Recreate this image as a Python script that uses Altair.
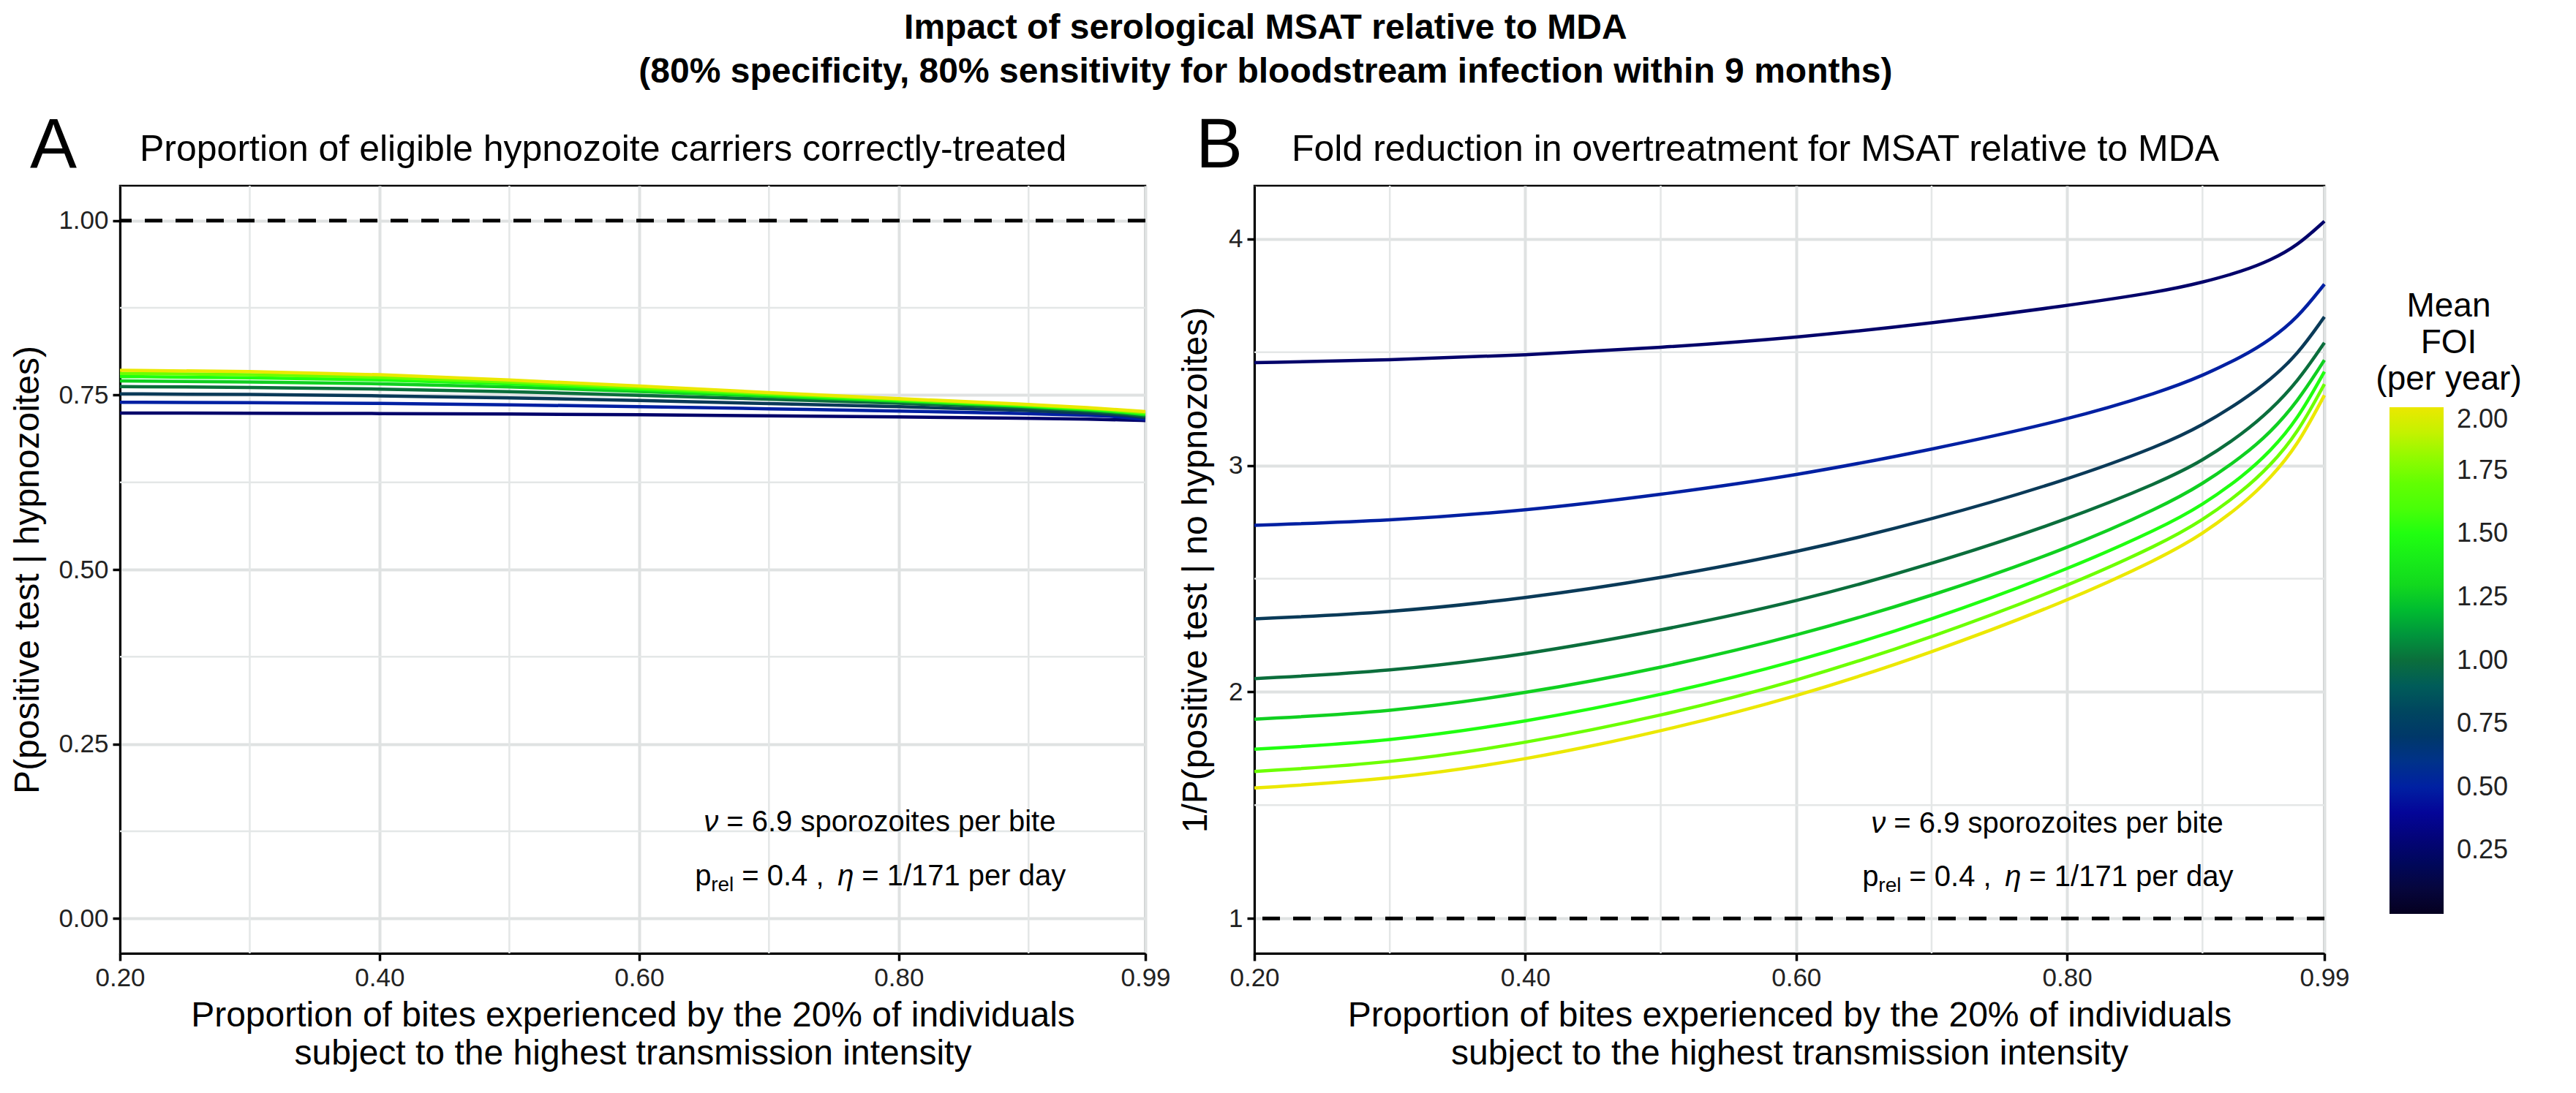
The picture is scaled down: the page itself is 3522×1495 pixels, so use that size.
import altair as alt
import pandas as pd

# ---------------- data ----------------
xa_points = [0.20, 0.30, 0.40, 0.50, 0.60, 0.70, 0.80, 0.90, 0.95, 0.97, 0.99]
xb_points = [0.20, 0.30, 0.40, 0.50, 0.60, 0.70, 0.80, 0.87, 0.90, 0.93, 0.95, 0.97, 0.99]
foi_levels = [0.25, 0.50, 0.75, 1.00, 1.25, 1.50, 1.75, 2.00]

# Panel A: P(positive test | hypnozoites)
a_foi_025 = [0.7243, 0.7239, 0.7236, 0.7229, 0.7218, 0.7204, 0.7187, 0.7169, 0.7155, 0.7145, 0.7135]
a_foi_050 = [0.7396, 0.7392, 0.7382, 0.7361, 0.7336, 0.7302, 0.7274, 0.7232, 0.7211, 0.7190, 0.7152]
a_foi_075 = [0.7517, 0.7510, 0.7490, 0.7462, 0.7423, 0.7378, 0.7336, 0.7281, 0.7239, 0.7218, 0.7176]
a_foi_100 = [0.7622, 0.7611, 0.7587, 0.7552, 0.7497, 0.7441, 0.7385, 0.7316, 0.7267, 0.7239, 0.7197]
a_foi_125 = [0.7702, 0.7691, 0.7664, 0.7622, 0.7552, 0.7483, 0.7413, 0.7336, 0.7284, 0.7256, 0.7218]
a_foi_150 = [0.7764, 0.7751, 0.7719, 0.7667, 0.7580, 0.7503, 0.7427, 0.7347, 0.7295, 0.7267, 0.7232]
a_foi_175 = [0.7810, 0.7796, 0.7761, 0.7691, 0.7604, 0.7517, 0.7437, 0.7357, 0.7305, 0.7277, 0.7246]
a_foi_200 = [0.7855, 0.7841, 0.7796, 0.7719, 0.7629, 0.7535, 0.7448, 0.7368, 0.7316, 0.7288, 0.7263]

# Panel B: 1/P(positive test | no hypnozoites)
b_foi_025 = [3.454, 3.465, 3.487, 3.520, 3.564, 3.627, 3.705, 3.768, 3.808, 3.858, 3.905, 3.970, 4.078]
b_foi_050 = [2.736, 2.756, 2.800, 2.871, 2.955, 3.070, 3.200, 3.326, 3.396, 3.482, 3.555, 3.650, 3.800]
b_foi_075 = [2.323, 2.350, 2.413, 2.502, 2.615, 2.760, 2.935, 3.090, 3.177, 3.289, 3.378, 3.488, 3.656]
b_foi_100 = [2.059, 2.090, 2.164, 2.271, 2.397, 2.563, 2.760, 2.930, 3.020, 3.142, 3.243, 3.368, 3.542]
b_foi_125 = [1.880, 1.911, 1.993, 2.105, 2.246, 2.422, 2.631, 2.818, 2.917, 3.042, 3.145, 3.280, 3.465]
b_foi_150 = [1.747, 1.782, 1.867, 1.985, 2.132, 2.317, 2.539, 2.726, 2.825, 2.953, 3.062, 3.201, 3.414]
b_foi_175 = [1.649, 1.685, 1.773, 1.893, 2.046, 2.240, 2.465, 2.656, 2.757, 2.888, 2.999, 3.140, 3.359]
b_foi_200 = [1.576, 1.613, 1.699, 1.825, 1.977, 2.173, 2.400, 2.594, 2.696, 2.830, 2.943, 3.086, 3.310]

a_series = [a_foi_025, a_foi_050, a_foi_075, a_foi_100, a_foi_125, a_foi_150, a_foi_175, a_foi_200]
b_series = [b_foi_025, b_foi_050, b_foi_075, b_foi_100, b_foi_125, b_foi_150, b_foi_175, b_foi_200]

x_ticks = [0.20, 0.40, 0.60, 0.80, 0.99]
x_minor = [0.30, 0.50, 0.70, 0.90]
ya_ticks = [0.00, 0.25, 0.50, 0.75, 1.00]
ya_minor = [0.125, 0.375, 0.625, 0.875]
yb_ticks = [1, 2, 3, 4]
yb_minor = [1.5, 2.5, 3.5]
ref_a = [1.0]
ref_b = [1.0]

legend_ticks = [0.25, 0.50, 0.75, 1.00, 1.25, 1.50, 1.75, 2.00]
color_stops = [0.0, 0.25, 0.45, 0.75, 1.0, 1.25, 1.5, 1.75, 2.0]
color_range = ["#050020", "#03036a", "#0505a8", "#0a3a58", "#0b6e3c",
               "#10d020", "#20ff10", "#6cff00", "#ebe800"]

title_lines = ["Impact of serological MSAT relative to MDA",
               "(80% specificity, 80% sensitivity for bloodstream infection within 9 months)"]
subtitle_a = "Proportion of eligible hypnozoite carriers correctly-treated"
subtitle_b = "Fold reduction in overtreatment for MSAT relative to MDA"
x_title = ["Proportion of bites experienced by the 20% of individuals",
           "subject to the highest transmission intensity"]
ya_title = "P(positive test | hypnozoites)"
yb_title = "1/P(positive test | no hypnozoites)"

annot_x = 0.785
annot_y_a = [0.138, 0.060]
annot_y_b = [1.417, 1.182]

FONT = "Liberation Sans"
W_A, W_B, H = 1402, 1463, 1050


def long_df(xs, series):
    rows = []
    for foi, vals in zip(foi_levels, series):
        for xv, yv in zip(xs, vals):
            rows.append({"x": xv, "y": yv, "foi": foi})
    return pd.DataFrame(rows)


df_a = long_df(xa_points, a_series)
df_b = long_df(xb_points, b_series)

xscale = alt.Scale(domain=[0.2, 0.99], nice=False, zero=False)
ya_scale = alt.Scale(domain=[-0.05, 1.05], nice=False, zero=False)
yb_scale = alt.Scale(domain=[0.846, 4.235], nice=False, zero=False)

x_axis = alt.Axis(values=x_ticks, format=".2f", title=x_title, labelFlush=False,
                  titlePadding=10, titleLineHeight=52, labelPadding=6)
ya_axis = alt.Axis(values=ya_ticks, format=".2f", title=ya_title, titleX=-126,
                   titleY=H / 2, titleAngle=-90, titleBaseline="middle", titleAlign="center")
yb_axis = alt.Axis(values=yb_ticks, format="d", title=yb_title, titleX=-80,
                   titleY=H / 2, titleAngle=-90, titleBaseline="middle", titleAlign="center")

color_enc = alt.Color(
    "foi:Q",
    scale=alt.Scale(domain=color_stops, range=color_range),
    legend=alt.Legend(
        title=["Mean", "FOI", "(per year)"], values=legend_ticks, format=".2f",
        orient="none", legendX=3084, legendY=143, direction="vertical",
        gradientLength=693, gradientThickness=74, gradientStrokeWidth=0,
        labelFontSize=36, labelColor="#222222", labelOffset=18,
        titleFontSize=46, titleFontWeight="normal", titleLineHeight=50,
        titleAlign="center", titleAnchor="middle", titlePadding=14, padding=0,
        titleLimit=600, labelLimit=300,
    ),
)


def X(f):
    return alt.X(f, type="quantitative", scale=xscale, axis=x_axis)


def YA(f):
    return alt.Y(f, type="quantitative", scale=ya_scale, axis=ya_axis)


def YB(f):
    return alt.Y(f, type="quantitative", scale=yb_scale, axis=yb_axis)


def text_piece(txt, xv, yv, yenc, dx, dy=0, size=40, style="normal"):
    d = pd.DataFrame({"x": [xv], "y": [yv], "t": [txt]})
    return alt.Chart(d).mark_text(
        align="left", baseline="middle", dx=dx, dy=dy, fontSize=size,
        fontStyle=style, color="black", font=FONT,
    ).encode(x=X("x"), y=yenc("y"), text="t:N")


def label_piece(txt, px, py, size):
    d = pd.DataFrame({"t": [txt]})
    return alt.Chart(d).mark_text(
        align="left", baseline="middle", fontSize=size, color="black", font=FONT,
    ).encode(x=alt.value(px), y=alt.value(py), text="t:N")


def panel(df, yenc, yminor, refv, ann_y, letter, letter_x, sub, sub_x, width):
    minor_x_layer = alt.Chart(pd.DataFrame({"v": x_minor})).mark_rule(
        color="#e4e7e7", strokeWidth=2.5).encode(x=X("v"))
    minor_y_layer = alt.Chart(pd.DataFrame({"v": yminor})).mark_rule(
        color="#e4e7e7", strokeWidth=2.5).encode(y=yenc("v"))
    ref_layer = alt.Chart(pd.DataFrame({"v": refv})).mark_rule(
        color="black", strokeWidth=5, strokeDash=[24, 18]).encode(y=yenc("v"))
    lines = alt.Chart(df).mark_line(strokeWidth=4.5, interpolate="basis").encode(
        x=X("x"), y=yenc("y"), color=color_enc, detail="foi:N")
    texts = [
        text_piece("\u03bd", annot_x, ann_y[0], yenc, -240, style="italic"),
        text_piece("= 6.9 sporozoites per bite", annot_x, ann_y[0], yenc, -209),
        text_piece("p", annot_x, ann_y[1], yenc, -252),
        text_piece("rel", annot_x, ann_y[1], yenc, -230, dy=12, size=28),
        text_piece("= 0.4 ,", annot_x, ann_y[1], yenc, -188),
        text_piece("\u03b7", annot_x, ann_y[1], yenc, -57, style="italic"),
        text_piece("= 1/171 per day", annot_x, ann_y[1], yenc, -24),
    ]
    labels = [
        label_piece(letter, letter_x, -54, 96),
        label_piece(sub, sub_x, -49, 50),
    ]
    return alt.layer(minor_x_layer, minor_y_layer, ref_layer, lines, *texts, *labels).properties(
        width=width, height=H)


panel_a = panel(df_a, YA, ya_minor, ref_a, annot_y_a, "A", -123, subtitle_a, 27, W_A)
panel_b = panel(df_b, YB, yb_minor, ref_b, annot_y_b, "B", -80, subtitle_b, 51, W_B)

chart = alt.hconcat(panel_a, panel_b, spacing=7).properties(
    title=alt.TitleParams(text=title_lines, fontSize=48, fontWeight="bold", anchor="middle",
                          lineHeight=60, offset=28, font=FONT, color="black"),
    padding={"left": 4, "top": 6, "right": 0, "bottom": 0},
    background="white",
).configure(font=FONT).configure_view(
    stroke="black", strokeWidth=2.5
).configure_axis(
    labelFontSize=35, labelColor="#222222", labelFont=FONT,
    titleFontSize=48, titleFontWeight="normal", titleColor="black", titleFont=FONT,
    domainColor="black", domainWidth=3, tickColor="black", tickWidth=3.5, tickSize=10,
    gridColor="#dfe2e2", gridWidth=4, labelPadding=6,
)

chart.save("out.html", embed_options={"renderer": "svg", "actions": False})
